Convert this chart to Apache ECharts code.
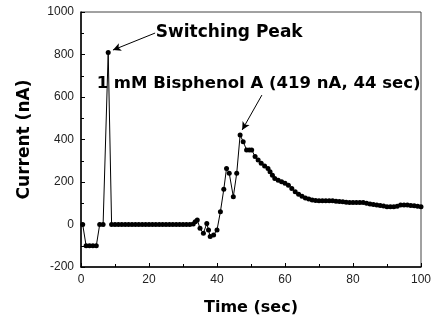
<!DOCTYPE html>
<html><head><meta charset="utf-8">
<script src="https://cdn.jsdelivr.net/npm/echarts@6/dist/echarts.min.js"></script>
<style>html,body{margin:0;padding:0;background:#fff}#c{width:438px;height:323px}</style>
</head><body><div id="c"></div>
<script>
const timeSec = [0.5,1.5,2.5,3.5,4.5,5.5,6.5,8,9,10,11,12,13,14,15,16,17,18,19,20,21,22,23,24,25,26,27,28,29,30,31,32,33,33.6,34.2,35,36,37,37.5,38,39,40,41,42,42.8,43.6,44.8,45.8,46.8,47.7,48.7,49.5,50.2,51.2,52.1,53,54,55,55.6,56.3,57,58,59,60,61,62,63,64,65,66,67,68,69,70,71,72,73,74,75,76,77,78,79,80,81,82,83,84,85,86,87,88,89,90,91,92,93,94,95,96,97,98,99,100];
const currentNA = [0,-100,-100,-100,-100,0,0,810,0,0,0,0,0,0,0,0,0,0,0,0,0,0,0,0,0,0,0,0,0,0,0,0,2,13,21,-18,-41,5,-26,-57,-49,-26,60,166,264,241,131,241,421,390,351,351,351,320,304,288,275,264,248,232,217,208,201,194,185,170,154,142,133,125,120,115,113,112,112,112,112,112,110,108,107,105,103,103,103,103,103,100,96,94,92,90,87,84,84,84,86,92,92,92,90,88,86,84];
const xTicks = [0,20,40,60,80,100];
const yTicks = [-200,0,200,400,600,800,1000];
const peakLabel = 'Switching Peak';
const bpaLabel = '1 mM Bisphenol A (419 nA, 44 sec)';
const peakArrow = [[21.8,901],[9.4,821]];
const bpaArrow = [[53.2,609],[47.4,445]];

const chart = echarts.init(document.getElementById('c'));
const bold = {fontFamily:'DejaVu Sans', fontWeight:'bold', color:'#000'};
chart.setOption({
  animation:false,
  grid:{left:81,right:17,top:12,bottom:56,show:true,borderColor:'#444',borderWidth:1},
  xAxis:{type:'value',min:xTicks[0],max:xTicks[xTicks.length-1],interval:20,
    name:'Time (sec)',nameLocation:'middle',nameGap:33,
    nameTextStyle:Object.assign({fontSize:16},bold),
    axisLine:{show:true,onZero:false,lineStyle:{color:'#000',width:1.5}},
    axisTick:{show:true,inside:true,length:4,lineStyle:{color:'#000'}},
    minorTick:{show:true,splitNumber:2,length:3,lineStyle:{color:'#000'}},
    splitLine:{show:false},
    axisLabel:{color:'#222',fontFamily:'Liberation Sans',fontSize:12,margin:7}},
  yAxis:{type:'value',min:yTicks[0],max:yTicks[yTicks.length-1],interval:200,
    name:'Current (nA)',nameLocation:'middle',nameGap:48,nameRotate:90,
    nameTextStyle:Object.assign({fontSize:17},bold),
    axisLine:{show:true,onZero:false,lineStyle:{color:'#000',width:1.5}},
    axisTick:{show:true,inside:true,length:4,lineStyle:{color:'#000'}},
    minorTick:{show:true,splitNumber:2,length:3,lineStyle:{color:'#000'}},
    splitLine:{show:false},
    axisLabel:{color:'#222',fontFamily:'Liberation Sans',fontSize:12,margin:7,formatter:v=>String(v)}},
  series:[{
    type:'line',
    data:timeSec.map((t,i)=>[t,currentNA[i]]),
    symbol:'circle',symbolSize:5,
    itemStyle:{color:'#000'},
    lineStyle:{color:'#000',width:1},
    markLine:{silent:true,symbolSize:[6,8],
      lineStyle:{color:'#000',width:1,type:'solid'},label:{show:false},
      data:[
        [{coord:peakArrow[0],symbol:'none'},{coord:peakArrow[1],symbol:'arrow'}],
        [{coord:bpaArrow[0],symbol:'none'},{coord:bpaArrow[1],symbol:'arrow'}]
      ]},
    markPoint:{symbol:'circle',symbolSize:0,
      data:[
        {coord:[22,905],label:{show:true,formatter:peakLabel,position:'right',distance:0,fontSize:17,fontFamily:'DejaVu Sans',fontWeight:'bold',color:'#000'}},
        {coord:[4.6,662],label:{show:true,formatter:bpaLabel,position:'right',distance:0,fontSize:16.5,fontFamily:'DejaVu Sans',fontWeight:'bold',color:'#000'}}
      ]}
  }]
});
</script></body></html>
